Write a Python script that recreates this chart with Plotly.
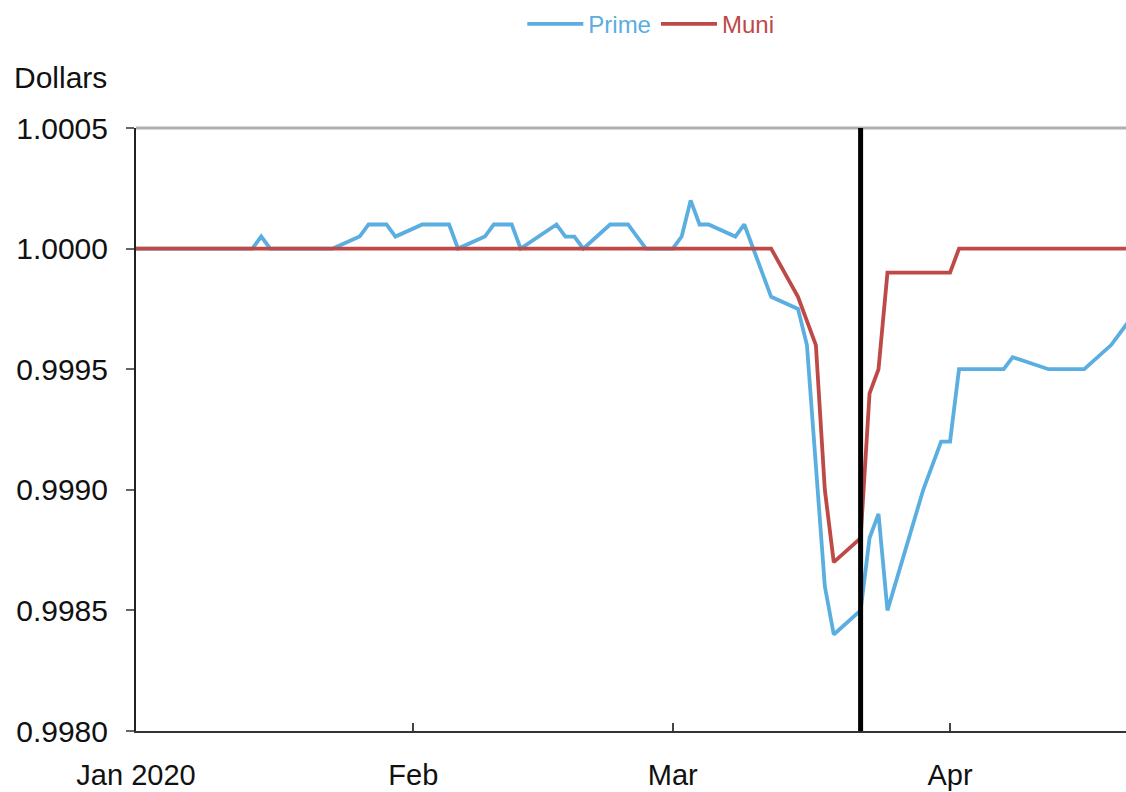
import plotly.graph_objects as go

# ---- data ----
prime_dates = [
    "2020-01-01", "2020-01-14", "2020-01-15", "2020-01-16", "2020-01-23",
    "2020-01-26", "2020-01-27", "2020-01-29", "2020-01-30", "2020-02-02",
    "2020-02-05", "2020-02-06", "2020-02-09", "2020-02-10", "2020-02-12",
    "2020-02-13", "2020-02-17", "2020-02-18", "2020-02-19", "2020-02-20",
    "2020-02-23", "2020-02-25", "2020-02-27", "2020-03-01", "2020-03-02",
    "2020-03-03", "2020-03-04", "2020-03-05", "2020-03-08", "2020-03-09",
    "2020-03-12", "2020-03-15", "2020-03-16", "2020-03-18", "2020-03-19",
    "2020-03-22", "2020-03-23", "2020-03-24", "2020-03-25", "2020-03-29",
    "2020-03-31", "2020-04-01", "2020-04-02", "2020-04-07", "2020-04-08",
    "2020-04-12", "2020-04-16", "2020-04-19", "2020-04-21",
]
prime_values = [
    1.0000, 1.0000, 1.00005, 1.0000, 1.0000,
    1.00005, 1.0001, 1.0001, 1.00005, 1.0001,
    1.0001, 1.0000, 1.00005, 1.0001, 1.0001,
    1.0000, 1.0001, 1.00005, 1.00005, 1.0000,
    1.0001, 1.0001, 1.0000, 1.0000, 1.00005,
    1.0002, 1.0001, 1.0001, 1.00005, 1.0001,
    0.9998, 0.99975, 0.9996, 0.9986, 0.9984,
    0.9985, 0.9988, 0.9989, 0.9985, 0.9990,
    0.9992, 0.9992, 0.9995, 0.9995, 0.99955,
    0.9995, 0.9995, 0.9996, 0.9997,
]

muni_dates = [
    "2020-01-01", "2020-03-12", "2020-03-15", "2020-03-17", "2020-03-18",
    "2020-03-19", "2020-03-22", "2020-03-23", "2020-03-24", "2020-03-25",
    "2020-04-01", "2020-04-02", "2020-04-21",
]
muni_values = [
    1.0000, 1.0000, 0.9998, 0.9996, 0.9990,
    0.9987, 0.9988, 0.9994, 0.9995, 0.9999,
    0.9999, 1.0000, 1.0000,
]

event_date = "2020-03-22"

x_tick_vals = ["2020-01-01", "2020-02-01", "2020-03-01", "2020-04-01"]
x_tick_text = ["Jan 2020", "Feb", "Mar", "Apr"]
y_tick_vals = [0.9980, 0.9985, 0.9990, 0.9995, 1.0000, 1.0005]
y_tick_text = ["0.9980", "0.9985", "0.9990", "0.9995", "1.0000", "1.0005"]

PRIME_COLOR = "#5aaee0"
MUNI_COLOR = "#bd4a47"
FONT = "Liberation Sans, Arial, sans-serif"

fig = go.Figure()
fig.add_trace(go.Scatter(
    x=prime_dates, y=prime_values, mode="lines",
    name=f"<span style='color:{PRIME_COLOR}'>Prime</span>",
    line=dict(color=PRIME_COLOR, width=3.8),
))
fig.add_trace(go.Scatter(
    x=muni_dates, y=muni_values, mode="lines",
    name=f"<span style='color:{MUNI_COLOR}'>Muni</span>",
    line=dict(color=MUNI_COLOR, width=3.8),
))

# top frame line at 1.0005 (top of plot area)
fig.add_shape(type="line", xref="paper", yref="paper", x0=0, x1=1,
              y0=1, y1=1, line=dict(color="#b0b0b0", width=3),
              layer="below")
# vertical event line
fig.add_shape(type="line", xref="x", yref="paper", x0=event_date, x1=event_date,
              y0=0, y1=1, line=dict(color="black", width=5))

fig.add_annotation(text="Dollars", xref="paper", yref="paper",
                   x=-0.1248, y=1.084, xanchor="left", yanchor="middle",
                   showarrow=False, font=dict(size=30, color="#111", family=FONT))

fig.update_layout(
    width=1126, height=792,
    margin=dict(l=136, r=0, t=128, b=61, autoexpand=False),
    paper_bgcolor="white", plot_bgcolor="white",
    font=dict(family=FONT, color="#111", size=29),
    showlegend=True,
    legend=dict(orientation="h", x=0.52, y=1.172, xanchor="center",
                yanchor="middle", font=dict(size=24, family=FONT),
                itemwidth=56, bgcolor="rgba(0,0,0,0)"),
    xaxis=dict(
        type="date",
        range=["2020-01-01", "2020-04-20 16:00"],
        tickvals=x_tick_vals, ticktext=x_tick_text,
        ticks="inside", ticklen=8, tickwidth=1.5, tickcolor="#444",
        showline=True, linecolor="#333", linewidth=2,
        showgrid=False, zeroline=False, automargin=False,
        ticklabelstandoff=17,
        tickfont=dict(size=29, family=FONT, color="#111"),
    ),
    yaxis=dict(
        range=[0.9980, 1.0005],
        tickvals=y_tick_vals, ticktext=y_tick_text,
        ticks="outside", ticklen=8, tickwidth=1.5, tickcolor="#666",
        showline=True, linecolor="#222", linewidth=2,
        showgrid=False, zeroline=False, automargin=False,
        ticklabelstandoff=12,
        tickfont=dict(size=30, family=FONT, color="#111"),
    ),
)

fig.write_html(
    "out.html",
    config={"displayModeBar": False},
    post_script="document.body.style.margin='0';document.body.style.overflow='hidden';",
)
